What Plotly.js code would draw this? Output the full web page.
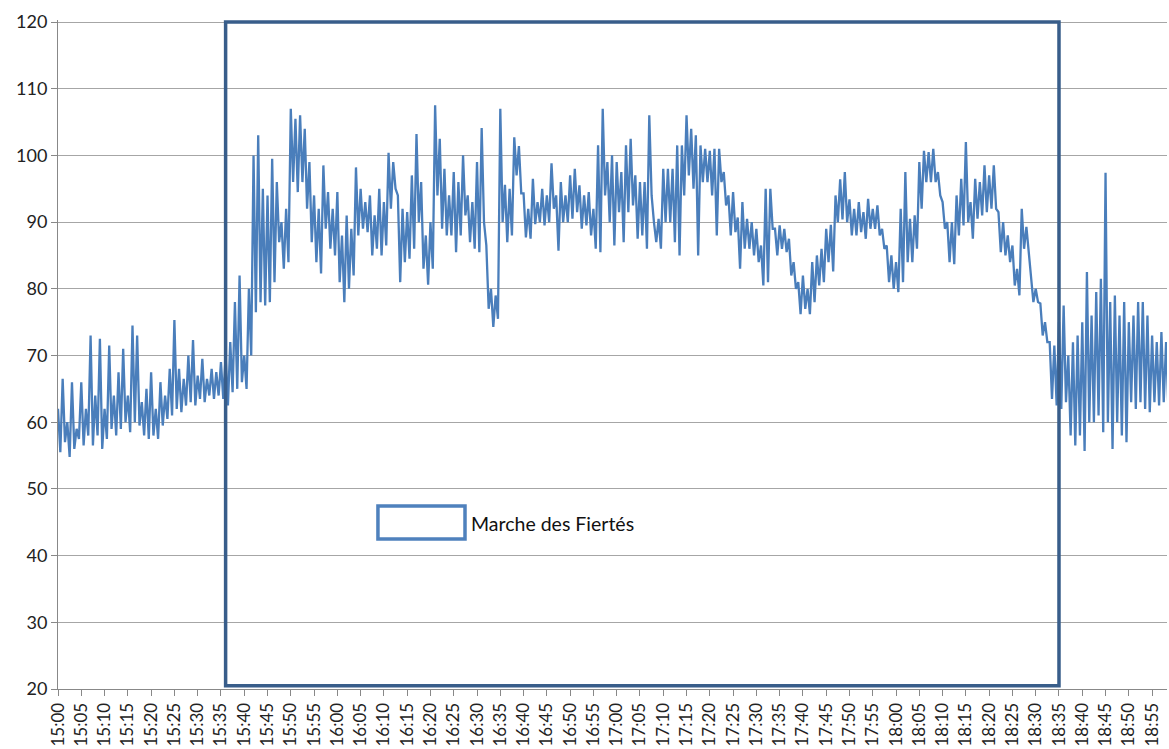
<!DOCTYPE html>
<html><head><meta charset="utf-8">
<script src="https://cdn.plot.ly/plotly-3.0.1.min.js"></script>
<style>html,body{margin:0;padding:0;background:#fff}#chart{width:1169px;height:749px}</style>
</head><body><div id="chart"></div><script>
// Sound level readings, one value every 30 seconds from 15:00:00
const day = '2000-01-01';
const startHour = 15;
const stepSeconds = 30;

const values1500 = [
62,55.5, 66.5,57, 60,54.8, 66,56, 59,57.5, 66,56.5, 62,58, 73,56.5, 64,58, 72.5,56,
62,57.5, 71.5,59, 64,58, 67.5,59, 71,60, 64,58.5, 74.5,60, 73,59.5, 63,58, 65,57.5,
67.5,58, 62,57.5, 66,59.5, 64,60.5, 68,61, 75.3,62, 68,61.5, 66.5,62.5, 70,63, 72.3,62.5
];
const values1530 = [
67,63.5, 69.5,63, 66.5,64, 68,63.5, 67.5,64, 69,63.5, 70,62.5, 72,64.5, 78,65, 82,66,
70,65, 80,70, 100,76.5, 103,78, 95,77.5, 94,78, 99.5,81, 96,87, 90,83, 92,84,
107,96, 105.5,94.5, 106,96, 104,92, 99,87, 94,84, 92,82.3, 98.5,89, 94.5,86, 92,85
];
const values1600 = [
94.5,81, 88,78, 91,80, 89,82, 98.2,88, 95,89, 93,88.5, 94,85, 91,86, 95,85,
93,86.5, 100.4,92, 99,95, 94,81, 92,84, 91.5,84.5, 97,86, 103.2,90, 96,83, 88,80.6,
90,83, 107.5,94, 102.5,89, 98,88, 94,88, 97.5,85.5, 96,88, 100,91, 94,87, 93,86
];
const values1630 = [
99,85.5, 104.1,90, 86.5,77, 80,74.3, 79,75.5, 107,90, 95.6,87, 95,88, 102.7,97, 101.4,94.3,
94.3,87.7, 92,87.5, 96.5,89.7, 93,90, 95,89.5, 94,90, 98.8,92, 94,85.7, 96,90, 94,90,
97,90.5, 98,91.5, 95.5,89, 94,89.5, 94.5,88, 92,86, 101.5,85.5, 107,94, 99,90, 100,86.5
];
const values1700 = [
99,91.5, 97.5,87, 101.5,91.5, 102.5,92.5, 97,87.5, 96,88, 96,86, 106,94, 90,87, 90.5,86,
98,90, 98,90, 98,87, 101.5,85, 101.5,94, 106,97, 104,95, 103,85, 101.5,96, 101,96,
100.7,94, 101,88, 101,96, 97.5,92.5, 94,88, 94.5,88.5, 90.7,83, 93,86, 90.5,86, 90,85
];
const values1730 = [
89,84, 86.5,80.5, 95,81, 95,89, 89,85, 89.5,86, 89,85.5, 87.5,82, 84,80, 81,76.2,
82,77, 80,76.2, 84,78, 85,80.5, 86,81, 89,84, 89.6,82.6, 94,90, 96.4,90.4, 97.5,90,
93.4,88, 92,88, 93,88.5, 91.5,87.5, 93.5,89, 92,89, 92.5,88, 89,86, 86.5,81, 85,80
];
const values1800 = [
84,79.5, 92,81, 97.5,84, 90.5,84, 91,86, 99,92, 100.7,96, 100.5,96, 101,96, 97.5,94,
93,89, 90,84, 90,83.7, 94,88, 96.5,89.5, 102,90, 93,87.5, 96.5,90.5, 96,91, 98.5,91.5,
97,92, 98.5,92, 91.5,85.5, 90,85, 88,84, 86.5,80.5, 83,79, 92,86, 89.3,85.8, 82,78
];
const values1830 = [
80,78, 77.8,73, 75,72, 72,63.5, 71.5,62.5, 75,62, 77.5,63, 70,58, 72,56.5, 73,58,
75,55.7, 82.5,60, 76,60, 79.5,61, 81.5,58.5, 97.4,60, 78,56, 79,60, 76,58, 78,57,
75,63, 76,62, 78,63, 78,62, 76,61.5, 73,63, 72,62.5, 73.5,63, 72,62
];

// "Marche des Fiertés" period box
const marchLabel = 'Marche des Fiertés';
const marchStart = '2000-01-01 15:36:00';
const marchEnd = '2000-01-01 18:35:00';
const marchLow = 20.5;
const marchHigh = 120;

const yTicks = [20,30,40,50,60,70,80,90,100,110,120];

const values = [].concat(values1500, values1530, values1600, values1630,
                         values1700, values1730, values1800, values1830);
function pad(n){ return (n<10?'0':'')+n; }
function stamp(sec){
  const h = startHour + Math.floor(sec/3600);
  const m = Math.floor((sec%3600)/60);
  const s = sec%60;
  return day + ' ' + pad(h) + ':' + pad(m) + ':' + pad(s);
}
const times = values.map((v,i)=>stamp(i*stepSeconds));

const font = 'Lato, "Open Sans", sans-serif';

const traces = [{
  type:'scatter', mode:'lines', x: times, y: values,
  line:{color:'#4a7ebb', width:2.3}, hoverinfo:'x+y', showlegend:false
}];

const layout = {
  width:1169, height:749,
  margin:{l:58, r:2, t:20, b:60, pad:0},
  paper_bgcolor:'#fff', plot_bgcolor:'#fff',
  showlegend:false,
  font:{family:font, color:'#222'},
  xaxis:{
    type:'date', range:[day+' 15:00:00', day+' 18:58:12'],
    tick0: day+' 15:00:00', dtick: 300000, tickformat:'%H:%M', tickangle:-90,
    ticks:'outside', ticklen:6, tickcolor:'#888', tickwidth:1,
    showline:true, linecolor:'#888', linewidth:1,
    showgrid:false, zeroline:false, automargin:false,
    tickfont:{family:font, size:17, color:'#222'}
  },
  yaxis:{
    range:[20, 120.3], tickmode:'array', tickvals:yTicks, ticktext:yTicks.map(String),
    ticks:'outside', ticklen:6, tickcolor:'#888', tickwidth:1,
    showline:true, linecolor:'#888', linewidth:1,
    showgrid:true, gridcolor:'#a6a6a6', gridwidth:1, zeroline:false, automargin:false,
    tickfont:{family:font, size:18, color:'#222'}
  },
  shapes:[
    {type:'rect', xref:'x', yref:'y', x0:marchStart, x1:marchEnd, y0:marchLow, y1:marchHigh,
     line:{color:'#385d8a', width:3.5}, fillcolor:'rgba(0,0,0,0)', layer:'above'},
    {type:'rect', xref:'paper', yref:'paper', x0:0.2885, x1:0.367, y0:0.2242, y1:0.2735,
     line:{color:'#4f81bd', width:3.5}, fillcolor:'#ffffff', layer:'above'}
  ],
  annotations:[
    {xref:'paper', yref:'paper', x:0.3705, y:0.2481, xanchor:'left', yanchor:'middle',
     text:marchLabel, showarrow:false, font:{family:font, size:19.5, color:'#111'}}
  ]
};

Plotly.newPlot('chart', traces, layout, {displayModeBar:false, staticPlot:true});
</script></body></html>
